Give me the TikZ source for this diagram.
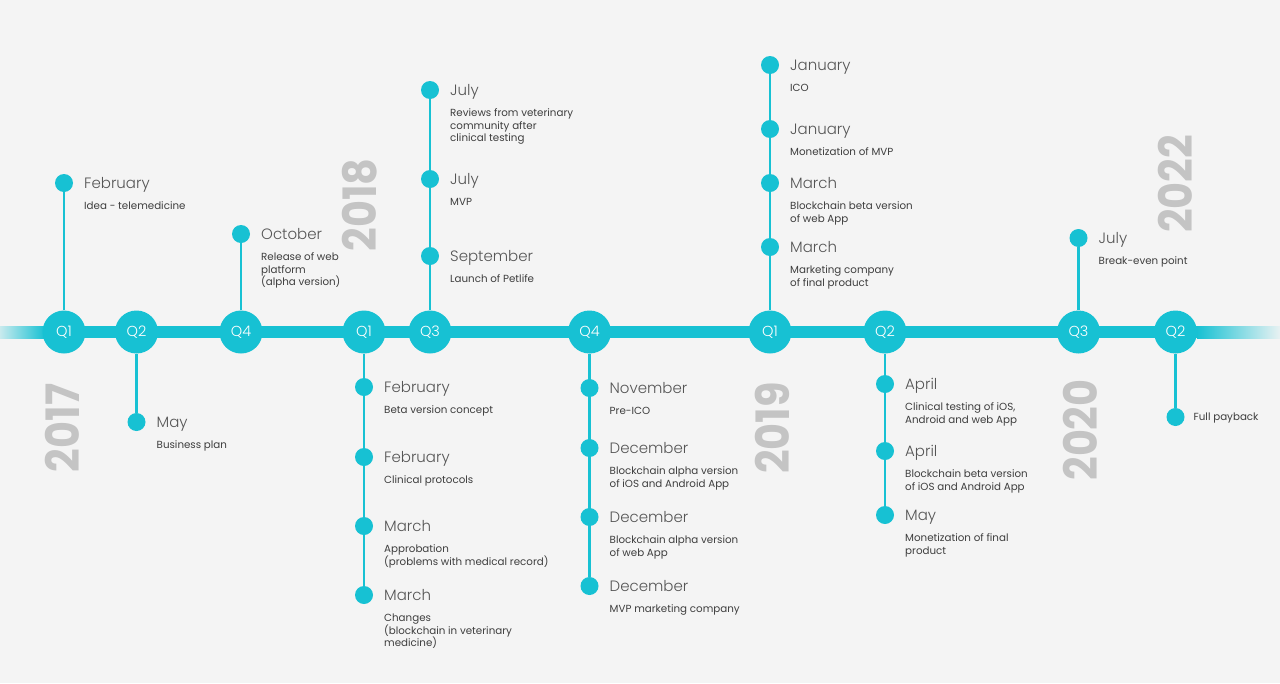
\documentclass[tikz,border=0pt]{standalone}
\usepackage{fontspec}
\setmainfont{Poppins}
\IfFontExistsTF{Poppins Light}{\newfontfamily\lightfont{Poppins Light}}{\newfontfamily\lightfont{Poppins}}
\usetikzlibrary{backgrounds}
\definecolor{bgc}{HTML}{F4F4F4}
\definecolor{cy}{HTML}{17C1D3}
\definecolor{yeargray}{HTML}{C4C4C4}
\definecolor{monthgray}{HTML}{555555}
\definecolor{descgray}{HTML}{3E3E3E}
\tikzset{
  qn/.style={circle,fill=cy,minimum size=43pt,inner sep=0pt,text=white,font=\lightfont\fontsize{14.5}{16}\selectfont},
  dot/.style={circle,fill=cy,minimum size=18pt,inner sep=0pt},
  month/.style={anchor=base west,inner sep=0pt,text=monthgray,font=\lightfont\fontsize{15}{18}\selectfont},
  desc/.style={anchor=north west,inner sep=0pt,align=left,text=descgray,font=\fontsize{10.3}{12.6}\selectfont},
  stem/.style={draw=cy,line width=2.2pt},
  bar/.style={draw=cy,line width=12pt},
  year/.style={rotate=90,inner sep=0pt,text=yeargray,font=\bfseries\fontsize{46}{46}\selectfont}
}
\newcommand\evt[5]{%
  \node[dot] (#1) at (#2,#3) {};
  \node[month] (#1m) at ([xshift=20pt,yshift=-5pt]#1.center) {#4};
  \node[desc] (#1d) at ([xshift=20pt,yshift=-17.5pt]#1.center) {\rule{0pt}{9pt}#5};
}
\begin{document}
\begin{tikzpicture}[x=1pt,y=-1pt]
\useasboundingbox (0,0) rectangle (1280,683);
% quarter nodes
\node[qn] (qa) at (64,332) {Q1};
\node[qn] (qb) at (136.5,332) {Q2};
\node[qn] (qc) at (241,332) {Q4};
\node[qn] (qd) at (364,332) {Q1};
\node[qn] (qe) at (430,332) {Q3};
\node[qn] (qf) at (589.5,332) {Q4};
\node[qn] (qg) at (770,332) {Q1};
\node[qn] (qh) at (885,332) {Q2};
\node[qn] (qi) at (1078.5,332) {Q3};
\node[qn] (qj) at (1175.5,332) {Q2};
\coordinate (fl1) at (44,332);
\coordinate (fr0) at (1198,332);
% events above
\evt{e1}{64}{183}{February}{Idea - telemedicine}
\evt{e2}{241}{234}{October}{Release of web\\platform\\(alpha version)}
\evt{e3}{430}{90}{July}{Reviews from veterinary\\community after\\clinical testing}
\evt{e4}{430}{179}{July}{MVP}
\evt{e5}{430}{256}{September}{Launch of Petlife}
\evt{e6}{770}{65}{January}{ICO}
\evt{e7}{770}{129}{January}{Monetization of MVP}
\evt{e8}{770}{183}{March}{Blockchain beta version\\of web App}
\evt{e9}{770}{247}{March}{Marketing company\\of final product}
\evt{e10}{1078.5}{238}{July}{Break-even point}
% events below
\evt{e11}{136.5}{422}{May}{Business plan}
\evt{e12}{364}{387}{February}{Beta version concept}
\evt{e13}{364}{457}{February}{Clinical protocols}
\evt{e14}{364}{526}{March}{Approbation\\(problems with medical record)}
\evt{e15}{364}{595}{March}{Changes\\(blockchain in veterinary\\medicine)}
\evt{e16}{589.5}{388}{November}{Pre-ICO}
\evt{e17}{589.5}{448}{December}{Blockchain alpha version\\of iOS and Android App}
\evt{e18}{589.5}{517}{December}{Blockchain alpha version\\of web App}
\evt{e19}{589.5}{586}{December}{MVP marketing company}
\evt{e20}{885}{384}{April}{Clinical testing of iOS,\\Android and web App}
\evt{e21}{885}{451}{April}{Blockchain beta version\\of iOS and Android App}
\evt{e22}{885}{515}{May}{Monetization of final\\product}
\node[dot] (e23) at (1175.5,417) {};
\node[desc,anchor=base west] (e23d) at ([xshift=18pt,yshift=-3.7pt]e23.center) {Full payback};
% years
\node[year] (y17) at (62,428) {\scalebox{0.9}[1]{2017}};
\node[year] (y18) at (360,205) {\scalebox{0.9}[1]{2018}};
\node[year] (y19) at (772,428) {\scalebox{0.9}[1]{2019}};
\node[year] (y20) at (1080,430) {\scalebox{0.9}[1]{2020}};
\node[year] (y22) at (1175,184) {\scalebox{0.9}[1]{2022}};
\begin{pgfonlayer}{background}
\fill[bgc] (0,0) rectangle (1280,683);
\shade[left color=cy!20!bgc,right color=cy] (0,326) rectangle (45,338);
\shade[left color=cy,right color=cy!5!bgc] (1197,326) rectangle (1280,338);
\draw[bar] (fl1) -- (fr0);
\draw[stem] (qa) -- (e1);
\draw[stem] (qb) -- (e11);
\draw[stem] (qc) -- (e2);
\draw[stem] (qd) -- (e15);
\draw[stem] (qe) -- (e3);
\draw[stem] (qf) -- (e19);
\draw[stem] (qg) -- (e6);
\draw[stem] (qh) -- (e22);
\draw[stem] (qi) -- (e10);
\draw[stem] (qj) -- (e23);
\end{pgfonlayer}
\end{tikzpicture}
\end{document}
